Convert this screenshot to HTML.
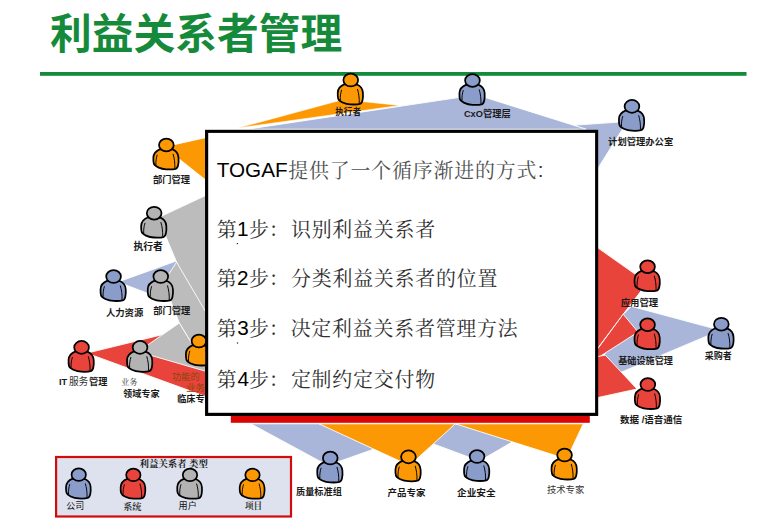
<!DOCTYPE html>
<html lang="zh-CN"><head><meta charset="utf-8"><title>利益关系者管理</title>
<style>
html,body{margin:0;padding:0;background:#fff}
body{width:773px;height:529px;position:relative;overflow:hidden;font-family:"Liberation Sans",sans-serif}
.t{position:absolute;margin:0;white-space:nowrap;line-height:1.15;color:transparent;font-family:"Liberation Sans",sans-serif}
</style></head><body>
<h1 class="t" style="left:50px;top:8px;font-size:41px;font-weight:bold">利益关系者管理</h1>
<p class="t" style="left:217px;top:158px;font-size:20px">TOGAF提供了一个循序渐进的方式:</p>
<p class="t" style="left:217px;top:217px;font-size:20px">第1步：识别利益关系者</p>
<p class="t" style="left:217px;top:267px;font-size:20px">第2步：分类利益关系者的位置</p>
<p class="t" style="left:217px;top:317px;font-size:20px">第3步：决定利益关系者管理方法</p>
<p class="t" style="left:217px;top:368px;font-size:20px">第4步：定制约定交付物</p>
<span class="t" style="left:336px;top:107px;font-size:9px;font-weight:bold">执行者</span>
<span class="t" style="left:464px;top:109px;font-size:9px;font-weight:bold">CxO管理层</span>
<span class="t" style="left:608px;top:136px;font-size:9px;font-weight:bold">计划管理办公室</span>
<span class="t" style="left:153px;top:175px;font-size:9px;font-weight:bold">部门管理</span>
<span class="t" style="left:134px;top:240px;font-size:9px;font-weight:bold">执行者</span>
<span class="t" style="left:106px;top:307px;font-size:9px;font-weight:bold">人力资源</span>
<span class="t" style="left:154px;top:306px;font-size:9px;font-weight:bold">部门管理</span>
<span class="t" style="left:59px;top:376px;font-size:9px;font-weight:bold">IT</span>
<span class="t" style="left:69px;top:376px;font-size:9px">服务</span>
<span class="t" style="left:89px;top:376px;font-size:9px;font-weight:bold">管理</span>
<span class="t" style="left:121px;top:377px;font-size:9px">业务</span>
<span class="t" style="left:123px;top:389px;font-size:9px;font-weight:bold">领域专家</span>
<span class="t" style="left:172px;top:372px;font-size:9px">功能的</span>
<span class="t" style="left:186px;top:383px;font-size:9px">业务</span>
<span class="t" style="left:177px;top:394px;font-size:9px;font-weight:bold">临床专家</span>
<span class="t" style="left:621px;top:296px;font-size:9px;font-weight:bold">应用管理</span>
<span class="t" style="left:618px;top:356px;font-size:9px;font-weight:bold">基础设施管理</span>
<span class="t" style="left:705px;top:350px;font-size:9px;font-weight:bold">采购者</span>
<span class="t" style="left:620px;top:414px;font-size:9px;font-weight:bold">数据 /语音通信</span>
<span class="t" style="left:296px;top:486px;font-size:9px;font-weight:bold">质量标准组</span>
<span class="t" style="left:388px;top:487px;font-size:9px;font-weight:bold">产品专家</span>
<span class="t" style="left:457px;top:487px;font-size:9px;font-weight:bold">企业安全</span>
<span class="t" style="left:547px;top:484px;font-size:9px">技术专家</span>
<span class="t" style="left:140px;top:458px;font-size:9px;font-weight:bold">利益关系者 类型</span>
<span class="t" style="left:67px;top:500px;font-size:9px">公司</span>
<span class="t" style="left:123px;top:501px;font-size:9px;font-weight:bold">系统</span>
<span class="t" style="left:179px;top:500px;font-size:9px">用户</span>
<span class="t" style="left:245px;top:501px;font-size:9px;font-weight:bold">项目</span>
<svg width="773" height="529" viewBox="0 0 773 529" style="position:absolute;left:0;top:0">
<defs>
<g id="person" stroke="#000" stroke-width="1.85" stroke-linejoin="round" stroke-linecap="round"><path d="M8.2 11.6C4 13.2 1 16.5 0.9 20.5C0.8 23 0.9 25 1.4 26.6C1.9 28.4 4 29.6 6 30.5C9 31.8 12 32.4 14.5 32.5C18.5 32.7 22 32.6 24.4 32C26.2 31.5 26.8 30 27.2 28C27.8 25.5 27.8 23 27.6 20.5C27.2 16.2 24.8 13.3 21.4 12Z"/><path d="M4.9 17.8C3.9 20.8 3.4 24.4 3.6 27.8" fill="none" stroke-width="1"/><path d="M21.9 17C23.2 21 23.9 26 23.7 31.2" fill="none" stroke-width="1"/><ellipse cx="14.7" cy="7.4" rx="7.8" ry="6.6"/></g>
</defs>
<rect x="40" y="72" width="706.5" height="3.8" fill="#168a3b"/>
<polygon points="575.7,125.1 619.0,122.1 622.5,129.0 597.0,169.8 585.0,150.0" fill="#a9b6d9" stroke="#fff" stroke-width="0.9" stroke-linejoin="round"/>
<polygon points="247.3,129.2 460.0,97.3 485.0,97.4 586.2,129.2" fill="#a9b6d9" stroke="#fff" stroke-width="0.9" stroke-linejoin="round"/>
<polygon points="237.5,128.1 343.0,99.6 400.0,105.4" fill="#fd9805" stroke="#fff" stroke-width="0.6" stroke-linejoin="round"/>
<polygon points="168.0,150.0 174.0,144.7 206.0,137.5 206.0,180.3 177.3,157.5" fill="#fd9805" stroke="#fff" stroke-width="0.9" stroke-linejoin="round"/>
<polygon points="85.0,353.6 163.0,334.5 210.0,330.0 210.0,398.1 93.0,355.4" fill="#e8443b" stroke="#fff" stroke-width="0.9" stroke-linejoin="round"/>
<polygon points="118.0,282.0 176.8,260.8 180.0,278.0 160.0,298.0" fill="#a9b6d9" stroke="#fff" stroke-width="0.9" stroke-linejoin="round"/>
<polygon points="158.0,217.8 206.0,195.3 206.0,330.0 190.0,294.0 176.6,262.1 165.4,235.6" fill="#bcbcbc" stroke="#fff" stroke-width="0.9" stroke-linejoin="round"/>
<polygon points="165.0,280.0 176.6,262.1 205.5,311.5 215.0,330.0 215.0,380.0 189.9,340.4 179.3,323.0 170.2,299.5" fill="#bcbcbc" stroke="#fff" stroke-width="0.9" stroke-linejoin="round"/>
<polygon points="138.0,351.7 179.3,323.0 209.3,372.3" fill="#bcbcbc" stroke="#fff" stroke-width="0.9" stroke-linejoin="round"/>
<polygon points="590.0,242.3 640.0,277.6 641.0,291.0 623.2,314.2 598.0,347.8 590.0,358.0" fill="#e8443b" stroke="#fff" stroke-width="0.9" stroke-linejoin="round"/>
<polygon points="713.0,328.3 631.3,306.3 623.2,314.4 590.0,385.4 713.0,333.4" fill="#a9b6d9" stroke="#fff" stroke-width="0.9" stroke-linejoin="round"/>
<polygon points="638.0,332.0 623.2,314.2 585.0,366.0" fill="#e8443b" stroke="#fff" stroke-width="0.9" stroke-linejoin="round"/>
<polygon points="637.0,389.0 605.3,355.1 580.0,360.0 580.0,399.4 598.0,397.5" fill="#e8443b" stroke="#fff" stroke-width="0.9" stroke-linejoin="round"/>
<polygon points="250.8,423.8 327.8,465.4 372.0,449.8 445.4,423.8" fill="#a9b6d9" stroke="#fff" stroke-width="0.9" stroke-linejoin="round"/>
<polygon points="420.0,438.9 479.4,461.1 530.0,431.6 520.0,423.8 430.0,423.8" fill="#a9b6d9" stroke="#fff" stroke-width="0.9" stroke-linejoin="round"/>
<polygon points="319.0,423.8 409.5,465.6 455.3,423.8" fill="#fd9805" stroke="#fff" stroke-width="0.9" stroke-linejoin="round"/>
<polygon points="455.3,423.8 566.7,459.0 583.3,423.8" fill="#fd9805" stroke="#fff" stroke-width="0.9" stroke-linejoin="round"/>
<rect x="230.8" y="412" width="359" height="10.8" fill="#da0606"/>
<rect x="206.7" y="131.4" width="389.9" height="282.9" fill="#fff" stroke="#000" stroke-width="3"/>
<rect x="56.1" y="457.0" width="234.9" height="59.5" fill="#dde2ee" stroke="#d00c0c" stroke-width="2.2"/>
<use href="#person" transform="translate(336.9 72.9) scale(0.9429 0.9697)" fill="#fd9805"/>
<use href="#person" transform="translate(458.6 73.3) scale(0.9429 0.9697)" fill="#8a9cc9"/>
<use href="#person" transform="translate(618.1 99.2) scale(0.9429 0.9697)" fill="#8a9cc9"/>
<use href="#person" transform="translate(152.5 137.8) scale(0.9429 0.9697)" fill="#fd9805"/>
<use href="#person" transform="translate(140.3 206.0) scale(0.9429 0.9697)" fill="#b3b3b3"/>
<use href="#person" transform="translate(99.7 269.4) scale(0.9429 0.9697)" fill="#8a9cc9"/>
<use href="#person" transform="translate(146.9 269.4) scale(0.9429 0.9697)" fill="#b3b3b3"/>
<use href="#person" transform="translate(67.7 340.2) scale(0.9429 0.9697)" fill="#e8443b"/>
<use href="#person" transform="translate(126.2 340.2) scale(0.9429 0.9697)" fill="#b3b3b3"/>
<use href="#person" transform="translate(185.1 333.9) scale(0.9429 0.9697)" fill="#fd9805"/>
<use href="#person" transform="translate(633.7 259.6) scale(0.9429 0.9697)" fill="#e8443b"/>
<use href="#person" transform="translate(633.7 317.6) scale(0.9429 0.9697)" fill="#e8443b"/>
<use href="#person" transform="translate(707.5 317.0) scale(0.9429 0.9697)" fill="#8a9cc9"/>
<use href="#person" transform="translate(634.0 377.4) scale(0.9429 0.9697)" fill="#e8443b"/>
<use href="#person" transform="translate(316.4 450.9) scale(0.9429 0.9697)" fill="#8a9cc9"/>
<use href="#person" transform="translate(394.6 449.7) scale(0.9429 0.9697)" fill="#fd9805"/>
<use href="#person" transform="translate(463.2 449.4) scale(0.9429 0.9697)" fill="#8a9cc9"/>
<use href="#person" transform="translate(550.7 447.9) scale(0.9429 0.9697)" fill="#fd9805"/>
<use href="#person" transform="translate(65.2 467.7) scale(0.9214 0.9455)" fill="#8a9cc9"/>
<use href="#person" transform="translate(119.8 467.9) scale(0.9214 0.9455)" fill="#e8443b"/>
<use href="#person" transform="translate(176.4 467.9) scale(0.9250 0.9455)" fill="#b3b3b3"/>
<use href="#person" transform="translate(238.9 467.9) scale(0.9250 0.9455)" fill="#fd9805"/>
<g font-family='"Liberation Sans", "Noto Sans CJK SC", sans-serif' font-weight="bold" fill="#1a1a1a">
<text x="335.24" y="115.37" font-size="8.63">执行者</text>
<text x="463.92" y="117.42" font-size="9.28">CxO管理层</text>
<text x="608.12" y="145.04" font-size="9.31">计划管理办公室</text>
<text x="153.02" y="183.42" font-size="9.27">部门管理</text>
<text x="133.40" y="249.95" font-size="9.87">执行者</text>
<text x="105.92" y="316.26" font-size="9.37">人力资源</text>
<text x="153.22" y="314.31" font-size="9.25">部门管理</text>
<text x="59.02" y="385.04" font-size="9.2">IT</text>
<text x="89.02" y="385.29" font-size="9.2">管理</text>
<text x="123.03" y="397.32" font-size="9.15">领域专家</text>
<text x="177.13" y="402.27" font-size="9.15">临床专家</text>
<text x="620.72" y="305.51" font-size="9.37">应用管理</text>
<text x="618.13" y="364.07" font-size="9.13">基础设施管理</text>
<text x="704.73" y="358.95" font-size="8.97">采购者</text>
<text x="620.01" y="422.87" font-size="9.53">数据 /语音通信</text>
<text x="296.03" y="494.98" font-size="9.16">质量标准组</text>
<text x="387.52" y="496.05" font-size="9.47">产品专家</text>
<text x="457.01" y="496.22" font-size="9.67">企业安全</text>
</g>
<g font-family='"Liberation Sans", "Noto Sans CJK SC", sans-serif'>
<text x="68.91" y="385.48" font-size="9.7" fill="#333">服务</text>
<text x="172.12" y="380.09" font-size="9.2" fill="#8a4508">功能的</text>
<text x="186.22" y="391.11" font-size="9.25" fill="#8a4508">业务</text>
<text x="546.92" y="493.26" font-size="9.37" fill="#333">技术专家</text>
<text x="66.33" y="508.95" font-size="8.95" fill="#111">公司</text>
<text x="178.53" y="509.02" font-size="9.15" fill="#111">用户</text>
</g>
<g font-family='"Liberation Serif", "Noto Serif CJK SC", serif'>
<text x="121.05" y="385.28" font-size="8.25" fill="#444">业务</text>
<text x="139.62" y="466.73" font-size="9.42" font-weight="bold" fill="#1a1a1a">利益关系者 类型</text>
<text x="123.13" y="509.62" font-size="9.15" font-weight="bold" fill="#3a3a3a">系统</text>
<text x="244.94" y="509.43" font-size="8.65" font-weight="bold" fill="#3a3a3a">项目</text>
</g>
<rect x="206.7" y="131.4" width="389.9" height="282.9" fill="#fff" stroke="#000" stroke-width="3"/>
<g font-family='"Liberation Sans", "Noto Serif CJK SC", serif' font-size="19.9">
<text x="216.74" y="177.40" font-size="20.7" fill="#000">TOGAF</text>
<text x="288.32" y="178.20" fill="#505050" letter-spacing="0.86">提供了一个循序渐进的方式</text>
<text x="540.7" y="177.40" font-size="20.7" fill="#333" text-anchor="middle">:</text>

<text x="216.76" y="236.50" fill="#303030">第</text>
<text x="237.0" y="235.70" font-size="20.7" fill="#000">1</text>
<text x="249.12" y="236.50" fill="#303030">步：</text>
<text x="290.94" y="236.50" fill="#303030" letter-spacing="0.82">识别利益关系者</text>

<text x="216.76" y="286.00" fill="#303030">第</text>
<text x="236.96" y="285.20" font-size="20.7" fill="#000">2</text>
<text x="249.12" y="286.00" fill="#303030">步：</text>
<text x="291.02" y="286.00" fill="#303030" letter-spacing="0.82">分类利益关系者的位置</text>

<text x="216.76" y="336.10" fill="#303030">第</text>
<text x="237.21" y="335.30" font-size="20.7" fill="#000">3</text>
<text x="249.12" y="336.10" fill="#303030">步：</text>
<text x="290.67" y="336.10" fill="#303030" letter-spacing="0.82">决定利益关系者管理方法</text>

<text x="216.76" y="386.70" fill="#303030">第</text>
<text x="237.52" y="385.90" font-size="20.7" fill="#000">4</text>
<text x="249.12" y="386.70" fill="#303030">步：</text>
<text x="290.92" y="386.70" fill="#303030" letter-spacing="0.82">定制约定交付物</text>
</g>
<rect x="236.8" y="243" width="1.2" height="1.2" fill="#222"/><rect x="236.9" y="342.4" width="1.2" height="1.2" fill="#222"/>
<text x="50" y="49.10" font-size="41.75" font-weight="bold" fill="#168a3b" font-family='"Liberation Sans", "Noto Sans CJK SC", sans-serif'>利益关系者管理</text>
</svg>
</body></html>
